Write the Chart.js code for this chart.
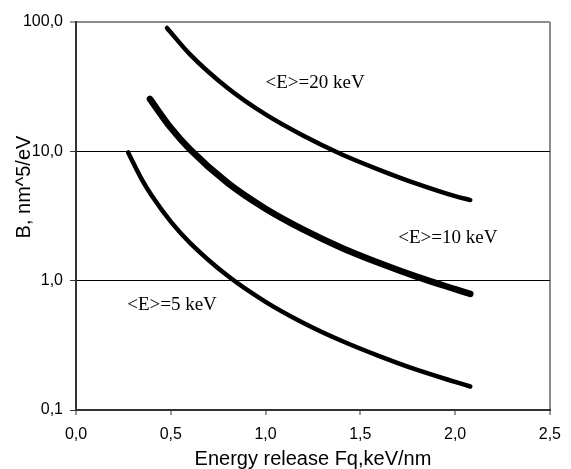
<!DOCTYPE html>
<html>
<head>
<meta charset="utf-8">
<script src="https://cdn.jsdelivr.net/npm/chart.js@4.4.1/dist/chart.umd.min.js"></script>
<style>
  body { margin: 0; background: #fff; }
  canvas { display: block; }
</style>
</head>
<body>
<canvas id="chart" width="571" height="469"></canvas>
<script>
// values
const xs20 = [0.48, 0.6, 0.8, 1.0, 1.2, 1.4, 1.6, 1.8, 2.0, 2.08];
const b20 = [90, 56.5, 30.9, 19.3, 13.2, 9.5, 7.2, 5.6, 4.5, 4.2];
const xs10 = [0.39, 0.5, 0.6, 0.8, 1.0, 1.2, 1.4, 1.6, 1.8, 2.0, 2.08];
const b10 = [25.4, 15.2, 10.4, 5.7, 3.6, 2.48, 1.80, 1.37, 1.07, 0.86, 0.79];
const xs5 = [0.275, 0.35, 0.4, 0.5, 0.6, 0.8, 1.0, 1.2, 1.4, 1.6, 1.8, 2.0, 2.08];
const b5 = [9.8, 5.96, 4.53, 2.86, 1.97, 1.09, 0.686, 0.471, 0.343, 0.261, 0.204, 0.165, 0.152];

const yTicks = [0.1, 1, 10, 100];
const seriesNames = ['<E>=20 keV', '<E>=10 keV', '<E>=5 keV'];
// label anchors in data units (left edge, vertical middle)
const labelX = [1.0, 1.70, 0.27];
const labelY = [33.7, 2.12, 0.652];

const fmt = v => Number(v).toFixed(1).replace('.', ',');
const pts = (xs, ys) => xs.map((x, i) => ({ x: x, y: ys[i] }));

Chart.defaults.font.family = '"Liberation Sans", Arial, sans-serif';
Chart.defaults.color = '#000';

const curve = (label, data, w) => ({
    label: label,
    data: data,
    borderColor: '#000',
    borderWidth: w,
    borderCapStyle: 'round',
    borderJoinStyle: 'round',
    pointRadius: 0,
    cubicInterpolationMode: 'monotone',
    fill: false
});

const textPlugin = {
    id: 'texts',
    afterDatasetsDraw(chart) {
        const ctx = chart.ctx;
        const xs = chart.scales.x, ys = chart.scales.y;
        ctx.save();
        ctx.fillStyle = '#000';
        ctx.font = '19px "Liberation Serif", "Times New Roman", serif';
        ctx.textBaseline = 'middle';
        ctx.textAlign = 'left';
        seriesNames.forEach((s, i) => {
            ctx.fillText(s, xs.getPixelForValue(labelX[i]), ys.getPixelForValue(labelY[i]));
        });
        // y axis title
        ctx.font = '20px "Liberation Sans", Arial, sans-serif';
        ctx.translate(30, 187);
        ctx.rotate(-Math.PI / 2);
        ctx.textAlign = 'center';
        ctx.textBaseline = 'alphabetic';
        ctx.fillText('B, nm^5/eV', 0, 0);
        ctx.restore();
    }
};

new Chart(document.getElementById('chart'), {
    type: 'line',
    data: {
        datasets: [
            curve(seriesNames[0], pts(xs20, b20), 4.5),
            curve(seriesNames[1], pts(xs10, b10), 6.5),
            curve(seriesNames[2], pts(xs5, b5), 4.5)
        ]
    },
    options: {
        responsive: false,
        animation: false,
        layout: { padding: { top: 22, right: 13, left: 0, bottom: 0 } },
        plugins: { legend: { display: false }, tooltip: { enabled: false } },
        scales: {
            x: {
                type: 'linear',
                min: 0,
                max: 2.5,
                afterFit: s => { s.height = 59; },
                ticks: { stepSize: 0.5, padding: 10, font: { size: 16 }, callback: v => fmt(v) },
                grid: {
                    color: c => c.tick && c.tick.value === 2.5 ? '#8c8c8c' : 'transparent',
                    lineWidth: 2,
                    tickColor: '#333',
                    tickWidth: 1,
                    tickLength: 5
                },
                border: { color: '#333', width: 2 },
                title: { display: true, text: 'Energy release Fq,keV/nm', font: { size: 20, lineHeight: 1 }, padding: 0 }
            },
            y: {
                type: 'logarithmic',
                min: 0.1,
                max: 100,
                afterFit: s => { s.width = 76; },
                afterBuildTicks: s => { s.ticks = yTicks.map(v => ({ value: v })); },
                ticks: { padding: 7, font: { size: 16 }, callback: v => fmt(v) },
                grid: {
                    color: c => {
                        const v = c.tick ? c.tick.value : null;
                        if (v === 100) return '#8c8c8c';
                        if (v === 0.1) return 'transparent';
                        return '#000';
                    },
                    lineWidth: c => (c.tick && c.tick.value === 100 ? 2 : 1),
                    tickColor: '#333',
                    tickWidth: 1,
                    tickLength: 6
                },
                border: { color: '#333', width: 2 }
            }
        }
    },
    plugins: [textPlugin]
});
</script>
</body>
</html>
